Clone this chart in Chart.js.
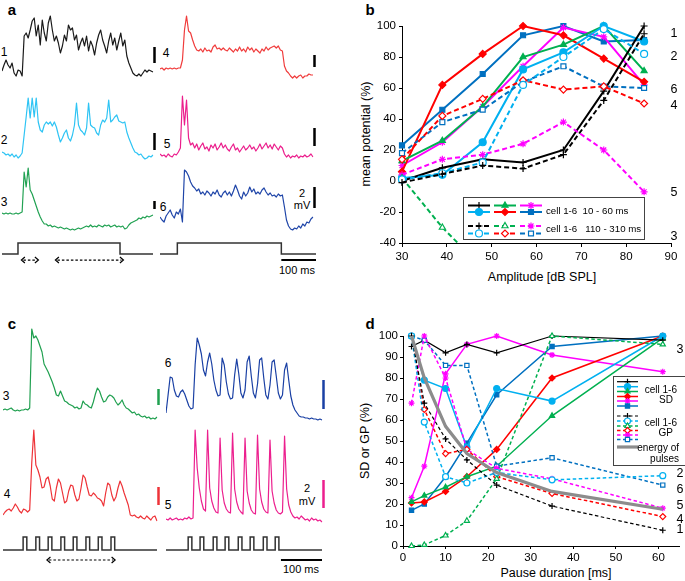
<!DOCTYPE html>
<html>
<head>
<meta charset="utf-8">
<script src="https://cdn.jsdelivr.net/npm/chart.js@4.4.1/dist/chart.umd.min.js"></script>
<style>
  body { margin: 0; background: #fff; }
  #fig { position: relative; width: 685px; height: 581px; overflow: hidden; font-family: 'Liberation Sans', Arial, sans-serif; color: #000; }
  #fig canvas { position: absolute; }
  .t { position: absolute; transform: translate(-50%, -50%); white-space: nowrap; line-height: 1; }
  .lt { font-weight: bold; font-size: 15px; }
  .n { font-size: 12px; }
  .s { font-size: 11px; }
  .ax { font-size: 12.5px; }
  .rot { transform: translate(-50%, -50%) rotate(-90deg); }
</style>
</head>
<body>
<div id="fig">
  <div class="t lt" style="left:12px;top:9px">a</div>
  <div class="t lt" style="left:370px;top:9px">b</div>
  <div class="t lt" style="left:12px;top:323px">c</div>
  <div class="t lt" style="left:370px;top:323px">d</div>

  <div class="t n" style="left:4px;top:52px">1</div>
  <div class="t n" style="left:166px;top:53px">4</div>
  <div class="t n" style="left:4px;top:140px">2</div>
  <div class="t n" style="left:167px;top:144px">5</div>
  <div class="t n" style="left:4px;top:202px">3</div>
  <div class="t n" style="left:163px;top:207px">6</div>
  <div class="t s" style="left:302px;top:193px">2</div>
  <div class="t s" style="left:302px;top:205px">mV</div>
  <div class="t s" style="left:297px;top:270px">100 ms</div>

  <div class="t n" style="left:6px;top:396px">3</div>
  <div class="t n" style="left:7px;top:494px">4</div>
  <div class="t n" style="left:168px;top:363px">6</div>
  <div class="t n" style="left:168px;top:505px">5</div>
  <div class="t s" style="left:307px;top:488px">2</div>
  <div class="t s" style="left:307px;top:501px">mV</div>
  <div class="t s" style="left:301px;top:569px">100 ms</div>

  <div class="t ax rot" style="left:366px;top:134px">mean potential (%)</div>
  <div class="t ax" style="left:542px;top:277px">Amplitude [dB SPL]</div>
  <div class="t ax rot" style="left:365px;top:441px">SD or GP (%)</div>
  <div class="t ax" style="left:556px;top:573px">Pause duration [ms]</div>
</div>
<script>
// ===== data: panel b (mean potential vs amplitude) =====
const ampDb = [30, 39, 48, 57, 66, 75, 84];
// window 10 - 60 ms (solid)
const b1Early = [0, 8.5, 14, 12, 20, 58, 100];
const b2Early = [2, 4, 25, 72, 83, 100, 90];
const b3Early = [13, 26, 48, 80, 88, 100, 71];
const b4Early = [6, 62, 82, 100, 94, 79, 64];
const b5Early = [10, 25, 48, 74, 99, 93, 62];
const b6Early = [23, 46, 69, 94, 100, 90, 91];
// window 110 - 310 ms (dashed)
const b1Late = [-1, 4.5, 10, 8, 17, 52, 95];
const b2Late = [1, 5, 12, 62, 80, 98, 82];
const b3Late = [2, -30, -56, null, null, null, null];
const b4Late = [14, 42, 53, 65, 59, 61, 50];
const b5Late = [4, 14, 17, 24, 38, 20, -7];
const b6Late = [18, 38, 46, 64, 74, 61, 60];
const bSideText = ['1', '2', '6', '4', '5', '3'];
const bSideAt = [95, 80.5, 59, 49, -7.5, -36];

// ===== data: panel d (SD / GP vs pause duration) =====
const pauseMs = [2, 5, 10, 15, 22, 35, 61];
const d1SD = [95, 98, 92, 96, 92, 100, 98];
const d2SD = [100, 79, 75, 47, 75, 69, 100];
const d3SD = [21, 24, 28, 33, 38, 62, 99];
const d4SD = [20.5, 21, 26, 33, 46, 80, 100];
const d5SD = [23, 38, 82, 96, 100, 91, 83];
const d6SD = [17, 20, 33, 49, 72, 95, 100];
const d1GP = [100, 68, 51, 41, 29, 19, 7.5];
const d2GP = [100, 59, 33, 30, 35, 31.5, 33.5];
const d3GP = [0, 0.5, 5, 12, 32, 100, 96];
const d4GP = [100, 65, 44, 46, 33, 25, 14];
const d5GP = [68, 100, 80, 46, 37, 32, 18];
const d6GP = [100, 98, 86, 86, 38, 42, 29];
const dEnergy = [100, 80, 57, 44, 35, 26, 17.5];
const dSideText = ['3', '2', '6', '5', '4', '1'];
const dSideAt = [93.7, 34.6, 27, 19.2, 12.8, 7.6];

// ===== data: panel a traces (amplitude units above each trace's baseline) =====
const trA1 = [7, 13, 18, 13, 10, 15, 5, 2, 8, 7, 2, 42, 45, 40, 48, 57, 60, 42, 53, 33, 58, 45, 37, 55, 62, 48, 37, 42, 35, 25, 32, 43, 37, 53, 48, 50, 38, 43, 28, 35, 40, 32, 42, 27, 37, 32, 23, 35, 43, 48, 38, 32, 25, 37, 45, 33, 40, 28, 37, 45, 32, 38, 22, 15, 10, 5, 3, 2, 4, 2, 5, 8, 6, 8, 7, 6];
const trA2 = [8, 7, 5, 6, 4, 6, 3, 5, 2, 4, 7, 25, 43, 62, 42, 62, 43, 62, 38, 30, 28, 35, 38, 36, 38, 34, 38, 33, 25, 18, 22, 27, 30, 22, 19, 25, 35, 57, 35, 30, 28, 25, 32, 57, 35, 33, 32, 27, 25, 35, 40, 38, 42, 60, 38, 40, 43, 45, 39, 38, 37, 38, 28, 22, 17, 12, 8, 7, 5, 6, 3, 1, 2, 4, 3, 5];
const trA3 = [19, 18, 19, 18, 19, 18, 18, 19, 18, 19, 20, 60, 45, 64, 42, 38, 32, 26, 20, 15, 11, 8, 8, 6, 7, 5, 6, 5, 4, 5, 4, 3, 4, 3, 2, 3, 2, 3, 4, 3, 4, 5, 6, 5, 7, 5, 6, 5, 7, 6, 5, 7, 6, 7, 5, 6, 7, 5, 6, 5, 6, 3, 4, 7, 9, 10, 11, 12, 14, 13, 15, 14, 16, 15, 16, 17];
const trA4 = [9, 10, 8, 10, 9, 10, 9, 10, 9, 10, 10, 18, 48, 62, 47, 45, 38, 32, 28, 27, 29, 26, 30, 27, 28, 26, 31, 33, 29, 30, 28, 30, 28, 27, 30, 28, 26, 29, 27, 31, 27, 29, 26, 31, 28, 30, 26, 29, 27, 25, 29, 27, 31, 28, 30, 31, 32, 30, 32, 28, 27, 12, 7, 5, 2, 0, 2, 0, 2, 3, 0, 2, 2, 4, 3, 3];
const trA5 = [6, 4, 5, 3, 6, 4, 3, 6, 5, 8, 12, 64, 35, 60, 22, 15, 17, 12, 16, 10, 14, 17, 11, 13, 9, 15, 12, 16, 10, 13, 17, 12, 15, 11, 9, 13, 16, 10, 12, 8, 11, 14, 10, 12, 15, 11, 13, 9, 12, 16, 11, 14, 17, 12, 15, 11, 16, 13, 10, 14, 12, 6, 3, 5, 2, 4, 3, 5, 2, 4, 3, 5, 3, 4, 6, 3];
const trA6 = [15, 12, 10, 16, 19, 22, 17, 14, 20, 18, 23, 10, 62, 60, 56, 50, 46, 44, 41, 43, 38, 40, 37, 41, 39, 36, 40, 38, 42, 37, 35, 39, 41, 37, 40, 36, 41, 47, 42, 36, 33, 40, 36, 39, 45, 40, 43, 38, 40, 38, 42, 44, 40, 37, 39, 36, 37, 35, 38, 36, 37, 25, 12, 6, 3, 2, 4, 3, 6, 4, 8, 6, 10, 9, 13, 15];

// ===== data: panel c traces =====
const trC3 = [10, 11, 10, 11, 12, 10, 9, 10, 9, 10, 10, 11, 10, 12, 91, 82, 84, 80, 74, 68, 56, 52, 48, 43, 38, 32, 25, 24, 29, 24, 19, 18, 16, 15, 14, 12, 13, 11, 12, 19, 16, 15, 13, 12, 18, 26, 32, 29, 23, 18, 19, 23, 25, 24, 22, 18, 15, 17, 20, 15, 12, 11, 9, 7, 8, 5, 6, 4, 3, 4, 2, 3, 1, 2, 1, 3];
const trC4 = [8, 11, 13, 14, 12, 15, 19, 16, 12, 10, 14, 13, 11, 13, 60, 93, 58, 53, 46, 35, 36, 44, 46, 37, 24, 22, 35, 44, 40, 30, 20, 22, 32, 38, 37, 28, 22, 24, 35, 48, 45, 36, 28, 27, 30, 28, 25, 24, 22, 17, 30, 40, 38, 28, 22, 26, 35, 42, 37, 30, 24, 18, 8, 7, 8, 6, 5, 7, 5, 4, 7, 5, 3, 6, 7, 2];
const trC5 = [4, 3, 5, 3, 4, 5, 3, 4, 3, 5, 4, 6, 4, 5, 93, 55, 35, 22, 14, 12, 93, 35, 22, 15, 11, 10, 85, 33, 20, 14, 11, 10, 90, 34, 21, 14, 11, 9, 85, 32, 20, 13, 10, 9, 88, 34, 21, 14, 11, 10, 83, 32, 20, 13, 10, 9, 11, 87, 34, 18, 11, 7, 5, 6, 4, 7, 5, 3, 4, 2, 5, 3, 4, 2, 3, 1];
const trC6 = [7, 25, 43, 42, 30, 24, 23, 28, 30, 26, 20, 14, 11, 12, 55, 82, 75, 66, 50, 44, 58, 67, 56, 40, 30, 24, 25, 62, 55, 38, 26, 21, 22, 45, 61, 46, 27, 22, 30, 58, 64, 44, 27, 22, 36, 60, 62, 42, 25, 21, 35, 58, 60, 44, 27, 21, 25, 50, 57, 40, 24, 15, 10, 7, 4, 3, 3, 2, 2, 1, 2, 1, 1, 0, 1, 0];

// 2 mV scale bar length in each trace's units
const barA = { t1: 16, t2: 17, t3: 8, t4: 12, t5: 18, t6: 21 };
const barC = { t3: 16, t4: 18, t5: 28, t6: 29 };

// ===== stimuli (ms) =====
const aLeftDur = 444, aLeftOnset = [47], aLeftWidth = 300;
const aRightDur = 450, aRightOnset = [50], aRightWidth = 300;
const aWindows = [[57, 107], [157, 357]];
const cLeftDur = 375, cLeftOnset = [49, 80, 110, 141, 171, 202, 232, 263], cPulseWidth = 9;
const cRightDur = 380, cRightOnset = [54, 83, 115, 144, 176, 205, 237, 266];
const cWindows = [[107, 273]];

const FONT = "'Liberation Sans', Arial, sans-serif";
Chart.defaults.font.family = FONT;
Chart.defaults.color = '#000';

const fig = document.getElementById('fig');
function addCanvas(left, top, w, h) {
  const c = document.createElement('canvas');
  c.width = w; c.height = h;
  c.style.left = left + 'px'; c.style.top = top + 'px';
  fig.appendChild(c);
  return c;
}

// ===== plugins =====
const traceBarPlugin = {
  id: 'traceBar',
  afterDraw(chart, args, o) {
    if (!o || o.len == null) return;
    const { ctx, chartArea, scales } = chart;
    const x = chartArea.right + 1.5;
    ctx.save();
    ctx.strokeStyle = o.color; ctx.lineWidth = 2.5;
    ctx.beginPath();
    ctx.moveTo(x, scales.y.getPixelForValue(o.from));
    ctx.lineTo(x, scales.y.getPixelForValue(o.from + o.len));
    ctx.stroke();
    ctx.restore();
  }
};

const stimExtrasPlugin = {
  id: 'stimExtras',
  afterDraw(chart, args, o) {
    const { ctx, scales: { x, y } } = chart;
    ctx.save();
    ctx.strokeStyle = '#000'; ctx.lineWidth = 1.2;
    (o.windows || []).forEach(([a, b]) => {
      const x0 = x.getPixelForValue(a), x1 = x.getPixelForValue(b), py = y.getPixelForValue(o.arrowY);
      ctx.setLineDash([2.5, 2]);
      ctx.beginPath(); ctx.moveTo(x0 + 2, py); ctx.lineTo(x1 - 2, py); ctx.stroke();
      ctx.setLineDash([]);
      ctx.beginPath();
      ctx.moveTo(x0 + 3.5, py - 3); ctx.lineTo(x0, py); ctx.lineTo(x0 + 3.5, py + 3);
      ctx.moveTo(x1 - 3.5, py - 3); ctx.lineTo(x1, py); ctx.lineTo(x1 - 3.5, py + 3);
      ctx.stroke();
    });
    if (o.bar) {
      const py = y.getPixelForValue(o.bar.y);
      ctx.lineWidth = 2;
      ctx.beginPath();
      ctx.moveTo(x.getPixelForValue(o.bar.from), py);
      ctx.lineTo(x.getPixelForValue(o.bar.to), py);
      ctx.stroke();
    }
    ctx.restore();
  }
};

const sideLabelPlugin = {
  id: 'sideLabels',
  afterDraw(chart, args, o) {
    const { ctx, scales } = chart;
    ctx.save();
    ctx.font = o.size + 'px ' + FONT;
    ctx.fillStyle = '#000'; ctx.textAlign = 'center'; ctx.textBaseline = 'middle';
    o.labels.forEach((t, i) => ctx.fillText(t, o.x, scales.y.getPixelForValue(o.values[i])));
    ctx.restore();
  }
};

function drawSample(ctx, ds, x0, x1, y) {
  ctx.save();
  ctx.strokeStyle = ds.borderColor; ctx.lineWidth = ds.borderWidth;
  ctx.setLineDash(ds.borderDash || []);
  ctx.beginPath(); ctx.moveTo(x0, y); ctx.lineTo(x1, y); ctx.stroke();
  ctx.setLineDash([]);
  if (ds.pointRadius > 0) {
    ctx.fillStyle = ds.pointBackgroundColor; ctx.strokeStyle = ds.pointBorderColor;
    ctx.lineWidth = ds.pointBorderWidth;
    Chart.helpers.drawPoint(ctx, { pointStyle: ds.pointStyle, radius: ds.pointRadius, rotation: 0, borderWidth: ds.pointBorderWidth }, (x0 + x1) / 2, y);
  }
  ctx.restore();
}

// ===== trace charts =====
function traceChart(left, top, w, h, values, color, yMin, yMax, bar) {
  return new Chart(addCanvas(left, top, w + 4, h), {
    type: 'line',
    data: {
      labels: values.map((_, i) => i),
      datasets: [{ data: values, borderColor: color, borderWidth: 1.2, pointRadius: 0, tension: 0, borderJoinStyle: 'round' }],
    },
    options: {
      responsive: false, animation: false, events: [],
      layout: { padding: { right: 4 } },
      scales: { x: { display: false }, y: { display: false, min: yMin, max: yMax } },
      plugins: { legend: { display: false }, tooltip: { enabled: false }, traceBar: bar },
    },
    plugins: [traceBarPlugin],
  });
}

function stepPoints(onsets, width, dur) {
  const pts = [{ x: 0, y: 0 }];
  onsets.forEach(t => { pts.push({ x: t, y: 0 }, { x: t, y: 1 }, { x: t + width, y: 1 }, { x: t + width, y: 0 }); });
  pts.push({ x: dur, y: 0 });
  return pts;
}

function stimChart(left, top, w, h, onsets, width, dur, yMin, yMax, extras) {
  return new Chart(addCanvas(left, top, w, h), {
    type: 'line',
    data: { datasets: [{ data: stepPoints(onsets, width, dur), borderColor: '#333', borderWidth: 1.5, pointRadius: 0, tension: 0 }] },
    options: {
      responsive: false, animation: false, events: [],
      scales: { x: { type: 'linear', display: false, min: 0, max: dur }, y: { display: false, min: yMin, max: yMax } },
      plugins: { legend: { display: false }, tooltip: { enabled: false }, stimExtras: extras },
    },
    plugins: [stimExtrasPlugin],
  });
}

// panel a
traceChart(2, 12, 151, 68, trA1, '#1a1a1a', -2, 66, { len: barA.t1, from: 15, color: '#000' });
traceChart(160, 12, 153, 68, trA4, '#f03c3c', -2, 66, { len: barA.t4, from: 11, color: '#000' });
traceChart(2, 94, 151, 68, trA2, '#2ec4f4', -2, 66, { len: barA.t2, from: 10, color: '#000' });
traceChart(160, 94, 153, 68, trA5, '#eb1e8c', -2, 66, { len: barA.t5, from: 14, color: '#000' });
traceChart(2, 166, 151, 68, trA3, '#22a253', -2, 66, { len: barA.t3, from: 23, color: '#000' });
traceChart(160, 166, 153, 68, trA6, '#1f45a8', -2, 66, { len: barA.t6, from: 24, color: '#000' });
stimChart(2, 238, 151, 40, aLeftOnset, aLeftWidth, aLeftDur, -2.18, 1.45, { windows: aWindows, arrowY: -0.55 });
stimChart(160, 238, 156, 40, aRightOnset, aRightWidth, aRightDur, -2.18, 1.45, { arrowY: -0.55, bar: { y: -0.55, from: aRightDur - 100, to: aRightDur } });

// panel c
traceChart(3, 326, 154, 96, trC3, '#20a050', -2, 94, { len: barC.t3, from: 15, color: '#20a050' });
traceChart(166, 326, 156, 96, trC6, '#1a40a4', -2, 94, { len: barC.t6, from: 11, color: '#1a40a4' });
traceChart(3, 427, 154, 98, trC4, '#ee3338', -2, 96, { len: barC.t4, from: 18, color: '#ee3338' });
traceChart(166, 427, 156, 98, trC5, '#ec1f8e', -2, 96, { len: barC.t5, from: 15, color: '#ec1f8e' });
stimChart(3, 530, 154, 40, cLeftOnset, cPulseWidth, cLeftDur, -1.54, 1.54, { windows: cWindows, arrowY: -0.77 });
stimChart(166, 530, 156, 40, cRightOnset, cPulseWidth, cRightDur, -1.54, 1.54, { arrowY: -0.77, bar: { y: -0.77, from: cRightDur - 100, to: cRightDur } });

// ===== line charts b and d =====
const cellColors = ['#000000', '#00b0f0', '#00b050', '#ff0000', '#ff00ff', '#0070c0'];
const cellShapes = ['cross', 'circle', 'triangle', 'rectRot', 'star', 'rect'];

function cellSet(xs, values, cell, dashed, r, w, dash) {
  const color = cellColors[cell];
  const open = dashed && cellShapes[cell] !== 'cross' && cellShapes[cell] !== 'star';
  return {
    data: xs.map((x, i) => ({ x, y: values[i] })),
    borderColor: color, borderWidth: w, borderDash: dashed ? dash : [],
    pointStyle: cellShapes[cell], pointRadius: r, pointBorderColor: color, pointBorderWidth: 1.2,
    pointBackgroundColor: open ? '#fff' : color, tension: 0, spanGaps: false,
    clip: { left: 8, top: 8, right: 8, bottom: 0 },
  };
}

function axisOpts(min, max, step, tickLen, pad, fit) {
  return {
    type: 'linear', min, max,
    ticks: { stepSize: step, font: { size: 11.5 }, color: '#000', padding: pad },
    grid: { drawOnChartArea: false, color: '#000', tickLength: tickLen },
    border: { color: '#000', width: 1 },
    afterFit: fit,
  };
}

const bEarly = [b1Early, b2Early, b3Early, b4Early, b5Early, b6Early].map((v, i) => cellSet(ampDb, v, i, false, 3.5, 2, []));
const bLate = [b1Late, b2Late, b3Late, b4Late, b5Late, b6Late].map((v, i) => cellSet(ampDb, v, i, true, 3.5, 2, [5, 3]));

const bLegendPlugin = {
  id: 'bLegend',
  afterDraw(chart) {
    const ctx = chart.ctx;
    ctx.save();
    ctx.fillStyle = '#fff'; ctx.strokeStyle = '#444'; ctx.lineWidth = 1;
    ctx.fillRect(108, 197, 181, 42); ctx.strokeRect(108.5, 197.5, 181, 42);
    const cols = [124, 150, 176];
    const rowsEarly = [[0, 2, 4], [1, 3, 5]], rowsLate = [[0, 2, 4], [1, 3, 5]];
    [205.5, 212].forEach((y, r) => rowsEarly[r].forEach((c, k) => drawSample(ctx, bEarly[c], cols[k] - 11, cols[k] + 11, y)));
    [226, 233.5].forEach((y, r) => rowsLate[r].forEach((c, k) => drawSample(ctx, bLate[c], cols[k] - 11, cols[k] + 11, y)));
    ctx.fillStyle = '#000'; ctx.font = '9.7px ' + FONT; ctx.textBaseline = 'middle'; ctx.textAlign = 'left';
    ctx.fillText('cell 1-6  10 - 60 ms', 191, 211);
    ctx.fillText('cell 1-6   110 - 310 ms', 191, 229);
    ctx.restore();
  }
};

new Chart(addCanvas(355, 0, 330, 300), {
  type: 'line',
  data: { datasets: [...bLate, ...bEarly] },
  options: {
    responsive: false, animation: false, events: [],
    layout: { padding: { top: 26, right: 14, left: 0, bottom: 0 } },
    scales: {
      x: axisOpts(30, 90, 10, 4, 3, s => { s.height = 57; }),
      y: axisOpts(-40, 100, 20, 3, 3, s => { s.width = 47; }),
    },
    plugins: {
      legend: { display: false }, tooltip: { enabled: false },
      sideLabels: { labels: bSideText, values: bSideAt, x: 319, size: 12.5 },
    },
  },
  plugins: [sideLabelPlugin, bLegendPlugin],
});

const dSD = [d1SD, d2SD, d3SD, d4SD, d5SD, d6SD].map((v, i) => cellSet(pauseMs, v, i, false, 3, 1.5, []));
const dGP = [d1GP, d2GP, d3GP, d4GP, d5GP, d6GP].map((v, i) => cellSet(pauseMs, v, i, true, 3, 1.5, [3.5, 2.5]));
dSD[0].borderWidth = 1.2; dGP[0].borderWidth = 1.2;
const dEnergySet = {
  data: pauseMs.map((x, i) => ({ x, y: dEnergy[i] })),
  borderColor: '#8c8c8c', borderWidth: 3.2, pointRadius: 0, tension: 0, clip: false,
};
[...dSD, ...dGP].forEach(ds => { ds.clip = false; });

const dLegendPlugin = {
  id: 'dLegend',
  afterDraw(chart) {
    const ctx = chart.ctx;
    ctx.save();
    ctx.fillStyle = '#fff'; ctx.strokeStyle = '#444'; ctx.lineWidth = 1;
    ctx.fillRect(258, 66, 90, 89); ctx.strokeRect(258.5, 66.5, 90, 89);
    [71.7, 76.7, 81.5, 86.5, 91, 96].forEach((y, i) => drawSample(ctx, dSD[i], 262, 283, y));
    [106, 111, 116, 120.5, 125, 129.5].forEach((y, i) => drawSample(ctx, dGP[i], 262, 283, y));
    drawSample(ctx, dEnergySet, 262, 283, 137);
    ctx.fillStyle = '#000'; ctx.font = '10px ' + FONT; ctx.textBaseline = 'middle'; ctx.textAlign = 'right';
    ctx.fillText('cell 1-6', 322, 80);
    ctx.fillText('SD', 318, 90);
    ctx.fillText('cell 1-6', 322, 113);
    ctx.fillText('GP', 318, 123);
    ctx.fillText('energy of', 324, 138);
    ctx.fillText('pulses', 324, 149);
    ctx.restore();
  }
};

new Chart(addCanvas(355, 310, 330, 271), {
  type: 'line',
  data: { datasets: [dEnergySet, ...dGP, ...dSD] },
  options: {
    responsive: false, animation: false, events: [],
    layout: { padding: { top: 26, right: 1, left: 0, bottom: 0 } },
    scales: {
      x: Object.assign(axisOpts(0, 65, 10, 3, 2, s => { s.height = 35; }), {
        afterBuildTicks: s => { s.ticks = s.ticks.filter(t => t.value <= 60); },
      }),
      y: axisOpts(0, 100, 10, 3, 2, s => { s.width = 48; }),
    },
    plugins: {
      legend: { display: false }, tooltip: { enabled: false },
      sideLabels: { labels: dSideText, values: dSideAt, x: 325, size: 12.5 },
    },
  },
  plugins: [sideLabelPlugin, dLegendPlugin],
});
</script>
</body>
</html>
